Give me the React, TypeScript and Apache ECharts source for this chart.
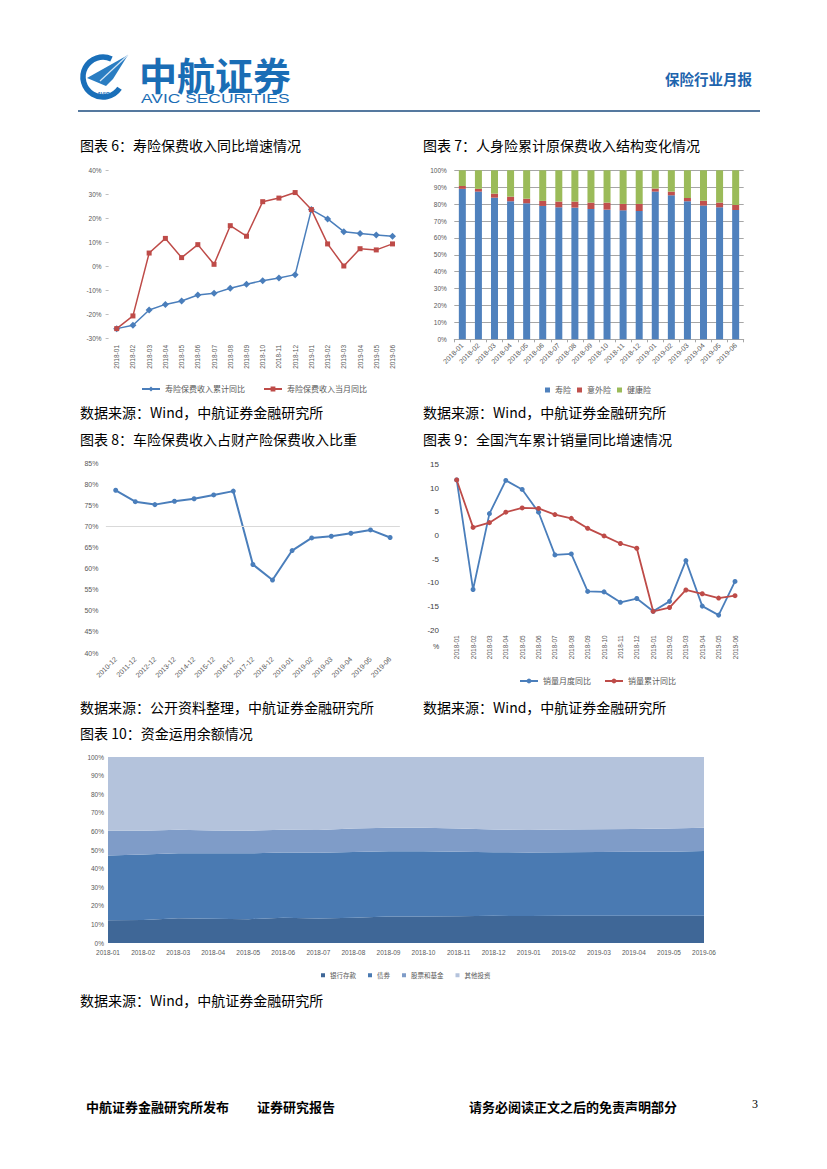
import React, { useEffect, useRef } from "react";
import * as echarts from "echarts";

// ---------- data ----------
const months = [
  "2018-01", "2018-02", "2018-03", "2018-04", "2018-05", "2018-06",
  "2018-07", "2018-08", "2018-09", "2018-10", "2018-11", "2018-12",
  "2019-01", "2019-02", "2019-03", "2019-04", "2019-05", "2019-06",
];

// 图表6
const lifeCumYoY = [-26.1, -24.7, -18.3, -16.0, -14.6, -12.1, -11.4, -9.3, -7.6, -6.1, -5.0, -3.6, 23.5, 19.6, 14.3, 13.5, 12.9, 12.4];
const lifeMonthYoY = [-26.1, -20.8, 5.4, 11.5, 3.5, 8.9, 0.7, 16.8, 12.4, 26.8, 28.3, 30.6, 23.5, 9.2, 0.0, 7.2, 6.7, 9.2];

// 图表7
const shareLife = [89.0, 87.4, 83.8, 81.7, 80.5, 78.9, 78.1, 77.9, 77.1, 76.7, 76.3, 75.9, 87.4, 85.2, 81.7, 79.1, 78.1, 76.5];
const shareAccident = [1.7, 1.6, 2.4, 2.7, 2.7, 3.0, 3.4, 3.6, 3.8, 4.2, 3.8, 4.2, 1.8, 2.2, 1.9, 2.9, 2.8, 3.0];
const shareHealth = [9.3, 11.0, 13.8, 15.6, 16.8, 18.1, 18.5, 18.5, 19.1, 19.1, 19.9, 19.9, 10.8, 12.6, 16.4, 18.0, 19.1, 20.5];

// 图表8
const autoYears = [
  "2010-12", "2011-12", "2012-12", "2013-12", "2014-12", "2015-12", "2016-12",
  "2017-12", "2018-12", "2019-01", "2019-02", "2019-03", "2019-04", "2019-05", "2019-06",
];
const autoShare = [78.6, 75.9, 75.2, 76.0, 76.6, 77.5, 78.4, 61.0, 57.3, 64.3, 67.3, 67.7, 68.4, 69.2, 67.4];

// 图表9
const salesMonthYoY = [11.7, -11.4, 4.6, 11.6, 9.7, 4.9, -4.1, -3.9, -11.8, -11.9, -14.1, -13.3, -16.0, -13.9, -5.3, -14.9, -16.8, -9.7];
const salesCumYoY = [11.7, 1.7, 2.7, 4.9, 5.8, 5.7, 4.4, 3.6, 1.5, -0.1, -1.7, -2.7, -16.0, -15.2, -11.5, -12.3, -13.2, -12.7];

// 图表10
const fundBank = [12.2, 12.4, 13.3, 13.0, 12.8, 13.6, 13.2, 13.6, 14.2, 14.3, 14.4, 14.6, 14.5, 14.6, 14.7, 14.7, 14.6, 14.6];
const fundBond = [34.8, 35.2, 34.9, 35.3, 35.4, 35.1, 35.3, 35.3, 35.1, 35.0, 34.6, 34.2, 34.2, 34.2, 34.2, 34.3, 34.5, 34.9];
const fundStock = [13.4, 12.8, 12.7, 12.2, 12.2, 12.2, 12.3, 12.6, 12.7, 12.6, 12.6, 12.2, 12.0, 12.2, 12.3, 12.3, 12.5, 12.5];
const fundOther = [39.6, 39.6, 39.1, 39.5, 39.6, 39.1, 39.2, 38.5, 38.0, 38.1, 38.4, 39.0, 39.3, 39.0, 38.8, 38.7, 38.4, 38.0];

// ---------- styles ----------
const CJK = "'Noto Sans CJK SC', sans-serif";
const SANS = "'Liberation Sans', Arial, sans-serif";
const GRAY = "#595959";
const BLUE = "#4a7ebb";
const RED = "#be4b48";

const txt = (text: string, x: number, y: number, size: number, opts: any = {}) => ({
  type: "text",
  x,
  y,
  silent: true,
  scaleX: opts.scaleX ?? 1,
  style: {
    text,
    fill: opts.fill ?? "#000",
    fontSize: size,
    fontFamily: opts.family ?? CJK,
    fontWeight: opts.weight ?? "normal",
    fontStyle: opts.style ?? "normal",
    textAlign: opts.align ?? "left",
    textVerticalAlign: "middle",
  },
});

const smallLabel = (size = 6.5) => ({ fontSize: size, color: GRAY, fontFamily: SANS });

export default function App() {
  const ref = useRef<HTMLDivElement>(null);

  useEffect(() => {
    if (!ref.current) return;
    const chart = echarts.init(ref.current, null, { renderer: "svg" });

    const option: any = {
      animation: false,
      backgroundColor: "#fff",
      graphic: [
        // logo
        {
          type: "arc",
          silent: true,
          shape: { cx: 103, cy: 77, r: 20, startAngle: 0.6, endAngle: 5.15, clockwise: true },
          style: { stroke: "#1a6fb9", lineWidth: 5.5, fill: "none" },
        },
        {
          type: "polygon",
          silent: true,
          shape: { points: [[128, 55], [87, 78], [106, 86], [113, 79]] },
          style: { fill: "#2a7dc2" },
        },
        {
          type: "polyline",
          silent: true,
          shape: { points: [[128, 55], [100, 81]] },
          style: { stroke: "#d5e6f5", lineWidth: 1.2 },
        },
        txt("AVIC", 103, 94, 5.5, { fill: "#1a6fb9", weight: "bold", style: "italic", family: SANS, align: "center" }),
        txt("中航证券", 139, 73, 38, { fill: "#1a6db5", weight: "bold" }),
        txt("AVIC SECURITIES", 141, 98.5, 12, { fill: "#1a6db5", family: SANS, scaleX: 1.45 }),
        txt("保险行业月报", 665, 78, 14.5, { fill: "#1e64ad", weight: "bold" }),
        {
          type: "line",
          silent: true,
          shape: { x1: 78, y1: 111, x2: 760, y2: 111 },
          style: { stroke: "#55799f", lineWidth: 2 },
        },
        // titles and sources
        txt("图表 6：寿险保费收入同比增速情况", 80, 145, 14),
        txt("图表 7：人身险累计原保费收入结构变化情况", 423, 145, 14),
        txt("数据来源：Wind，中航证券金融研究所", 80, 412, 14),
        txt("数据来源：Wind，中航证券金融研究所", 423, 412, 14),
        txt("图表 8：车险保费收入占财产险保费收入比重", 80, 439, 14),
        txt("图表 9：全国汽车累计销量同比增速情况", 423, 439, 14),
        txt("%", 433, 646, 7, { fill: "#404040", family: SANS }),
        txt("数据来源：公开资料整理，中航证券金融研究所", 80, 707, 14),
        txt("数据来源：Wind，中航证券金融研究所", 423, 707, 14),
        txt("图表 10：资金运用余额情况", 80, 733, 14),
        txt("数据来源：Wind，中航证券金融研究所", 80, 1000, 14),
        // footer
        txt("中航证券金融研究所发布", 86, 1106, 13, { weight: "bold" }),
        txt("证券研究报告", 257, 1106, 13, { weight: "bold" }),
        txt("请务必阅读正文之后的免责声明部分", 469, 1106, 13, { weight: "bold" }),
        txt("3", 752, 1104, 12, { family: "'Liberation Serif', serif" }),
      ],
      grid: [
        { left: 108.6, top: 170, width: 292, height: 168 },
        { left: 454.3, top: 170.3, width: 289.4, height: 169 },
        { left: 105.9, top: 463.3, width: 294, height: 189.7 },
        { left: 448.5, top: 464.3, width: 294.7, height: 166 },
        { left: 108, top: 757, width: 596, height: 186 },
      ],
      legend: [
        {
          data: ["寿险保费收入累计同比", "寿险保费收入当月同比"],
          left: 136, top: 380, itemWidth: 18, itemHeight: 6, itemGap: 18,
          textStyle: { fontSize: 8, color: GRAY, fontFamily: CJK },
        },
        {
          data: ["寿险", "意外险", "健康险"],
          left: 540, top: 381, icon: "rect", itemWidth: 5, itemHeight: 5, itemGap: 6,
          textStyle: { fontSize: 8, color: GRAY, fontFamily: CJK },
        },
        {
          data: ["销量月度同比", "销量累计同比"],
          left: 514, top: 672, itemWidth: 18, itemHeight: 6, itemGap: 13,
          textStyle: { fontSize: 8, color: GRAY, fontFamily: CJK },
        },
        {
          data: ["银行存款", "债券", "股票和基金", "其他投资"],
          left: 316, top: 967, icon: "rect", itemWidth: 4, itemHeight: 4, itemGap: 12,
          textStyle: { fontSize: 6.5, color: GRAY, fontFamily: CJK },
        },
      ],
      xAxis: [
        {
          type: "category", gridIndex: 0, data: months, boundaryGap: true,
          axisLine: { show: false }, axisTick: { show: false },
          axisLabel: { ...smallLabel(6.5), rotate: 90, margin: 7, interval: 0 },
        },
        {
          type: "category", gridIndex: 1, data: months, boundaryGap: true,
          axisLine: { show: true, lineStyle: { color: "#a6a6a6", width: 1 } },
          axisTick: { show: true, length: 3, lineStyle: { color: "#a6a6a6" } },
          axisLabel: { ...smallLabel(7), rotate: 45, margin: 5, interval: 0 },
        },
        {
          type: "category", gridIndex: 2, data: autoYears, boundaryGap: true,
          axisLine: { show: false }, axisTick: { show: false },
          axisLabel: { ...smallLabel(7), rotate: 45, margin: 5, interval: 0 },
        },
        {
          type: "category", gridIndex: 3, data: months, boundaryGap: true,
          axisLine: { show: false }, axisTick: { show: false },
          axisLabel: { ...smallLabel(6.5), rotate: 90, margin: 5, interval: 0 },
        },
        {
          type: "category", gridIndex: 4, data: months, boundaryGap: false,
          axisLine: { show: false }, axisTick: { show: false },
          axisLabel: { ...smallLabel(6.5), margin: 6, interval: 0 },
        },
      ],
      yAxis: [
        {
          type: "value", gridIndex: 0, min: -30, max: 40, interval: 10,
          axisLine: { show: false },
          axisTick: { show: true, length: 3, lineStyle: { color: "#bfbfbf" } },
          splitLine: { show: false },
          axisLabel: { ...smallLabel(6.5), margin: 7, formatter: "{value}%" },
        },
        {
          type: "value", gridIndex: 1, min: 0, max: 100, interval: 10,
          axisLine: { show: false }, axisTick: { show: false },
          splitLine: { show: true, lineStyle: { color: "#a6a6a6", width: 1 } },
          axisLabel: { ...smallLabel(6.5), margin: 7.5, formatter: "{value}%" },
        },
        {
          type: "value", gridIndex: 2, min: 40, max: 85, interval: 5,
          axisLine: { show: false }, axisTick: { show: false },
          splitLine: { show: false },
          axisLabel: { ...smallLabel(7), margin: 7.5, formatter: "{value}%" },
        },
        {
          type: "value", gridIndex: 3, min: -20, max: 15, interval: 5,
          axisLine: { show: false }, axisTick: { show: false },
          splitLine: { show: false },
          axisLabel: { fontSize: 8, color: "#404040", fontFamily: SANS, margin: 9.5 },
        },
        {
          type: "value", gridIndex: 4, min: 0, max: 100, interval: 10,
          axisLine: { show: false }, axisTick: { show: false },
          splitLine: { show: false },
          axisLabel: { ...smallLabel(6.5), margin: 4, formatter: "{value}%" },
        },
      ],
      series: [
        {
          name: "寿险保费收入累计同比", type: "line", xAxisIndex: 0, yAxisIndex: 0,
          data: lifeCumYoY, symbol: "diamond", symbolSize: 7,
          itemStyle: { color: BLUE }, lineStyle: { color: BLUE, width: 1.5 },
        },
        {
          name: "寿险保费收入当月同比", type: "line", xAxisIndex: 0, yAxisIndex: 0,
          data: lifeMonthYoY, symbol: "rect", symbolSize: 5,
          itemStyle: { color: RED }, lineStyle: { color: RED, width: 1.5 },
        },
        {
          name: "寿险", type: "bar", stack: "life", xAxisIndex: 1, yAxisIndex: 1,
          data: shareLife, barWidth: 7, itemStyle: { color: "#4f81bd" },
        },
        {
          name: "意外险", type: "bar", stack: "life", xAxisIndex: 1, yAxisIndex: 1,
          data: shareAccident, barWidth: 7, itemStyle: { color: "#c0504d" },
        },
        {
          name: "健康险", type: "bar", stack: "life", xAxisIndex: 1, yAxisIndex: 1,
          data: shareHealth, barWidth: 7, itemStyle: { color: "#9bbb59" },
        },
        {
          name: "车险占比", type: "line", xAxisIndex: 2, yAxisIndex: 2,
          data: autoShare, symbol: "circle", symbolSize: 5,
          itemStyle: { color: BLUE }, lineStyle: { color: BLUE, width: 2 },
          markLine: {
            silent: true, symbol: "none", label: { show: false },
            lineStyle: { color: "#d9d9d9", type: "solid", width: 1 },
            data: [{ yAxis: 70 }],
          },
        },
        {
          name: "销量月度同比", type: "line", xAxisIndex: 3, yAxisIndex: 3,
          data: salesMonthYoY, symbol: "circle", symbolSize: 5,
          itemStyle: { color: BLUE }, lineStyle: { color: BLUE, width: 1.8 },
        },
        {
          name: "销量累计同比", type: "line", xAxisIndex: 3, yAxisIndex: 3,
          data: salesCumYoY, symbol: "circle", symbolSize: 5,
          itemStyle: { color: RED }, lineStyle: { color: RED, width: 1.8 },
        },
        {
          name: "银行存款", type: "line", stack: "fund", xAxisIndex: 4, yAxisIndex: 4,
          data: fundBank, symbol: "none", lineStyle: { width: 0 },
          itemStyle: { color: "#3f6797" }, areaStyle: { color: "#3f6797", opacity: 1 },
        },
        {
          name: "债券", type: "line", stack: "fund", xAxisIndex: 4, yAxisIndex: 4,
          data: fundBond, symbol: "none", lineStyle: { width: 0 },
          itemStyle: { color: "#4a7ab2" }, areaStyle: { color: "#4a7ab2", opacity: 1 },
        },
        {
          name: "股票和基金", type: "line", stack: "fund", xAxisIndex: 4, yAxisIndex: 4,
          data: fundStock, symbol: "none", lineStyle: { width: 0 },
          itemStyle: { color: "#7f9cc8" }, areaStyle: { color: "#7f9cc8", opacity: 1 },
        },
        {
          name: "其他投资", type: "line", stack: "fund", xAxisIndex: 4, yAxisIndex: 4,
          data: fundOther, symbol: "none", lineStyle: { width: 0 },
          itemStyle: { color: "#b4c3dc" }, areaStyle: { color: "#b4c3dc", opacity: 1 },
        },
      ],
    };

    chart.setOption(option);
    return () => chart.dispose();
  }, []);

  return (
    <div
      ref={ref}
      style={{ position: "absolute", left: 0, top: 0, width: 827, height: 1169, background: "#fff" }}
    />
  );
}
